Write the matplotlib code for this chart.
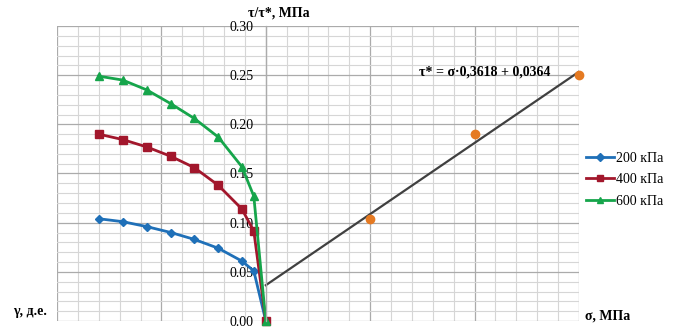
import matplotlib
matplotlib.use("Agg")
import matplotlib.pyplot as plt
from matplotlib.ticker import MultipleLocator, FormatStrFormatter
import numpy as np

plt.rcParams["font.family"] = ["Liberation Serif", "DejaVu Serif"]

# strain (left half of the chart, negative side)
gamma = [-0.32, -0.274, -0.228, -0.182, -0.137, -0.091, -0.046, -0.023, 0.0]

tau_200 = [0.104, 0.101, 0.096, 0.090, 0.083, 0.074, 0.061, 0.051, 0.0]
tau_400 = [0.190, 0.1845, 0.177, 0.1675, 0.156, 0.138, 0.114, 0.0915, 0.0]
tau_600 = [0.249, 0.245, 0.235, 0.221, 0.206, 0.187, 0.157, 0.127, 0.0]

# peak strength vs normal stress
sigma = [0.2, 0.4, 0.6]
tau_peak = [0.104, 0.190, 0.250]

slope = 0.3618
intercept = 0.0364
fit_x = np.array([0.0, 0.6])

fig = plt.figure(figsize=(6.75, 3.28), dpi=100)
ax = fig.add_axes([57 / 675, 7 / 328, 522 / 675, 295 / 328])

ax.set_xlim(-0.4, 0.6)
ax.set_ylim(0, 0.30)

ax.xaxis.set_major_locator(MultipleLocator(0.2))
ax.xaxis.set_minor_locator(MultipleLocator(0.04))
ax.yaxis.set_major_locator(MultipleLocator(0.05))
ax.yaxis.set_minor_locator(MultipleLocator(0.01))
ax.yaxis.set_major_formatter(FormatStrFormatter("%.2f"))

ax.grid(which="major", color="#ababab", linewidth=0.9)
ax.grid(which="minor", color="#d6d6d6", linewidth=0.8)
ax.set_axisbelow(True)

for s in ["top", "right", "bottom"]:
    ax.spines[s].set_visible(False)
ax.spines["left"].set_position(("data", 0))
ax.spines["left"].set_color("#ababab")
ax.spines["left"].set_linewidth(0.9)

ax.tick_params(axis="x", which="both", length=0, labelbottom=False)
ax.tick_params(axis="y", which="both", length=0, pad=9, labelsize=10)

ax.plot(gamma, tau_200, color="#1f70b8", marker="D", markersize=4.5,
        linewidth=2, label="200 кПа", clip_on=False)
ax.plot(gamma, tau_400, color="#a2172c", marker="s", markersize=5.5,
        linewidth=2, label="400 кПа", clip_on=False)
ax.plot(gamma, tau_600, color="#16a54b", marker="^", markersize=6,
        linewidth=2, label="600 кПа", clip_on=False)

ax.plot(fit_x, fit_x * slope + intercept, color="#404040", linewidth=1.6)
ax.plot(sigma, tau_peak, "o", color="#e57a22", markersize=6, clip_on=False)

ax.text(0.42, 0.253, "τ* = σ·0,3618 + 0,0364", fontsize=10, fontweight="bold",
        ha="center", va="center")

fig.text(279 / 675, 1 - 13 / 328, "τ/τ*, МПа", fontsize=10, fontweight="bold",
         ha="center", va="center")
fig.text(13 / 675, 1 - 312 / 328, "γ, д.е.", fontsize=10, fontweight="bold",
         ha="left", va="center")
fig.text(585 / 675, 1 - 316 / 328, "σ, МПа", fontsize=10, fontweight="bold",
         ha="left", va="center")

handles, labels = ax.get_legend_handles_labels()
fig.legend(handles, labels, loc="upper left", bbox_to_anchor=(576 / 675, 1 - 142 / 328),
           frameon=False, fontsize=10, handlelength=2.0, handletextpad=0.15,
           labelspacing=0.62, borderpad=0.2, markerscale=0.8)

fig.savefig("out.png", dpi=100)
